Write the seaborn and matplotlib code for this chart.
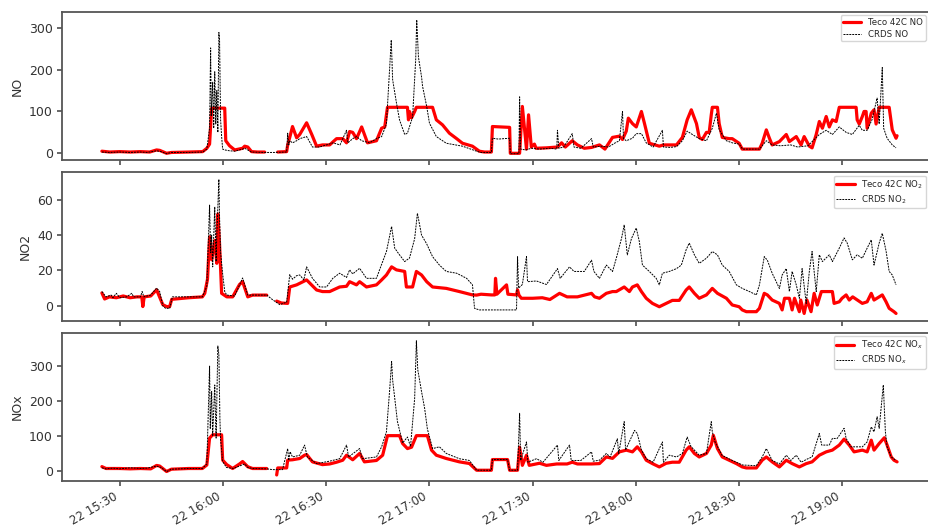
# NO / NO2 / NOx comparison, Teco 42C vs CRDS
import numpy as np
import pandas as pd
import matplotlib
matplotlib.use('Agg')
import matplotlib.pyplot as plt
import matplotlib.dates as mdates
import seaborn as sns

start = pd.Timestamp('2018-05-22 15:00')

# (minutes after 15:00, value)
no_teco_a = [(24.8, 5), (27.1, 3), (30, 4), (33, 3), (36, 4), (38.7, 3), (40.7, 8), (41.6, 7),
             (43.6, 0), (45, 2), (50, 3), (54.1, 4), (55.3, 12), (56.1, 22), (56.7, 108),
             (60.5, 108), (60.8, 30), (61.9, 18), (63.4, 8), (65.7, 12), (66.3, 17), (67.2, 15),
             (68.3, 4), (70, 3), (72.1, 3)]
no_teco_b = [(75.9, 3), (78.5, 4), (78.8, 20), (79.4, 38), (80.2, 64), (81.4, 37), (82.3, 45),
             (84.3, 73), (85.8, 45), (87.2, 17), (88.9, 20), (91, 20), (93, 35), (94.8, 35),
             (95.9, 25), (96.8, 52), (97.7, 50), (98.8, 35), (100.3, 63), (102, 25), (104.6, 30),
             (106.1, 60), (107, 63), (107.8, 110), (113.6, 110), (113.9, 80), (114.2, 100),
             (114.8, 85), (115.7, 100), (116.2, 110), (120.9, 110), (122, 80), (123.8, 68),
             (125.8, 48), (127.9, 35), (129.6, 24), (132.5, 17), (134.5, 5), (136, 3), (138, 3),
             (138.3, 64), (143.3, 62), (143.5, 0), (146.2, 0), (147, 112), (148.2, 10),
             (148.8, 92), (149.6, 15), (150.5, 22), (151, 12), (154, 13), (157.2, 15), (158.4, 25),
             (159.5, 15), (161.5, 30), (163, 20), (165, 12), (167.1, 14), (169.4, 20), (171, 10),
             (173.2, 38), (175.2, 41), (176.1, 33), (177.2, 53), (177.8, 84), (179, 71),
             (180.1, 63), (181.6, 100), (182.5, 71), (183.9, 24), (186.8, 17), (188, 20),
             (191.8, 20), (193.5, 38), (194.9, 80), (196.1, 104), (197.6, 71), (198.4, 38),
             (199.3, 33), (200.5, 50), (201.3, 50), (201.9, 92), (202.2, 110), (203.7, 110),
             (204.2, 71), (205.1, 38), (207.1, 35), (208, 35), (210, 24), (210.9, 10), (215.9, 10),
             (216.7, 24), (217.9, 56), (218.8, 36), (219.6, 20), (221.7, 28), (223.7, 45),
             (224.6, 28), (226.6, 40), (228, 20), (228.9, 40), (230.4, 17), (231.2, 13),
             (232.4, 45), (233.3, 76), (234.2, 60), (235.3, 88), (236.2, 63), (237.1, 80),
             (238.2, 76), (239.1, 110), (244, 110), (244.3, 80), (244.9, 70), (245.8, 88),
             (246.3, 100), (246.9, 100), (247.2, 60), (248.4, 96), (249.2, 104), (249.8, 70),
             (250.7, 110), (253.6, 110), (254.5, 56), (255.6, 36), (255.9, 42)]
no_crds = [(24.8, 3), (27, 2), (30, 3), (33, 2), (36, 3), (38, 2), (40.7, 6), (42, 4), (43.6, -1),
           (45, 2), (50, 2), (54.1, 3), (55.3, 10), (56.1, 60), (56.4, 252), (56.6, 90), (57, 170),
           (57.3, 60), (57.6, 195), (57.9, 70), (58.2, 150), (58.5, 50), (58.8, 289), (59, 270),
           (59.3, 80), (59.6, 40), (59.9, 10), (60.5, 8), (61.9, 6), (63.4, 5), (65.7, 10),
           (66.3, 12), (67.2, 8), (68.3, 3), (72, 2), (75, 2), (78.5, 3), (78.8, 48), (79.1, 20),
           (79.4, 30), (80.2, 25), (81.4, 30), (82.3, 35), (84.3, 40), (85, 30), (86, 15),
           (88.1, 15), (90, 20), (92, 25), (94, 20), (95.9, 55), (96.3, 25), (97.7, 35),
           (98.8, 40), (100.3, 30), (102.6, 25), (104.6, 35), (106.1, 40), (107.5, 70),
           (108.4, 200), (108.9, 271), (109.3, 176), (110.4, 121), (111.3, 80), (112.8, 45),
           (113.6, 48), (115.1, 87), (116, 224), (116.3, 319), (116.8, 230), (117.7, 183),
           (118, 160), (119.2, 112), (120, 72), (122, 40), (124.9, 24), (129.6, 17), (133.7, 5),
           (135, 2), (138, 2), (138.3, 36), (140, 34), (143.3, 36), (143.5, -1), (146, -1),
           (146.2, 135), (146.5, 10), (148, 8), (149.6, 12), (152, 10), (155, 12), (157, 10),
           (157.2, 55), (157.6, 12), (159, 15), (161.5, 47), (162, 15), (164, 12), (167.1, 35),
           (167.6, 15), (170, 17), (172, 15), (174, 25), (175.2, 30), (176.1, 100), (176.4, 35),
           (177.2, 30), (179, 36), (180.1, 47), (181.6, 47), (183, 25), (185, 15), (187.7, 55),
           (188, 15), (190, 14), (191.8, 16), (193.5, 30), (194.9, 53), (196.4, 45), (198.4, 35),
           (200.5, 30), (202.2, 60), (203.4, 96), (204.2, 56), (206.3, 30), (208, 25), (210, 22),
           (211, 10), (215.9, 10), (217.9, 30), (219.6, 20), (222, 18), (225, 20), (227, 15),
           (230, 18), (233.3, 45), (235.3, 55), (237.1, 45), (239.1, 63), (241.1, 50),
           (242.9, 45), (244.9, 67), (245.8, 55), (247.2, 55), (248.6, 80), (250.1, 132),
           (250.7, 70), (251.6, 205), (252, 60), (253, 36), (254.5, 20), (255.6, 13)]

no2_teco_a = [(24.8, 7.2), (25.6, 3.8), (27, 5), (29, 4.5), (31, 5.5), (33, 4.5), (35, 5),
              (36.4, 5), (36.7, -0.5), (37.1, 5), (39, 5.5), (40.7, 9), (42.5, 0.6), (43.6, -0.5),
              (44.5, -0.5), (45.1, 3.6), (50, 4.5), (54, 5), (54.7, 7), (55.5, 15), (56.1, 39),
              (56.7, 26), (57.6, 37), (58.2, 24), (58.5, 52), (59, 35), (59.6, 7), (61.1, 5),
              (62.8, 5), (64.8, 12), (65.7, 13.6), (67.2, 5), (68.6, 6), (72.7, 6)]
no2_teco_b = [(75.6, 2.6), (77, 1.5), (78.8, 1.3), (79.4, 10.6), (81.4, 11.8), (84.3, 14.6),
              (87.2, 8.9), (88.9, 8), (91, 8), (93.9, 10.6), (95.9, 11), (96.8, 13.6), (98.8, 11.8),
              (99.7, 13.6), (101.7, 10.6), (104.6, 11.8), (106.1, 14.6), (107.5, 17.4), (109, 22),
              (110.4, 20.3), (112.8, 19.4), (113.3, 10.6), (115.1, 10.6), (116.2, 19.4),
              (117.7, 17.4), (119.2, 13.6), (120.9, 10.6), (124.9, 9.8), (128.7, 8), (132.5, 6.1),
              (133.7, 6), (135, 6.5), (138, 6.1), (139, 6.1), (139.2, 15.5), (139.6, 6.5),
              (142.4, 11.8), (142.8, 6.5), (145.3, 6.1), (145.6, 9), (146, 6), (146.7, 4.2),
              (150, 4.2), (152.8, 4.5), (155, 3.5), (157.8, 7), (160, 5), (163, 5), (167.1, 7),
              (168, 5), (169.4, 4.2), (171.4, 7), (173.2, 8), (174.3, 8), (176.6, 10.6), (178.1, 8),
              (179, 10.6), (180.4, 11.8), (181.6, 8), (183, 4.2), (184.8, 1.3), (186.8, -0.6),
              (188.8, 1.3), (190.6, 3), (192.6, 3), (194.6, 8.9), (195.5, 10.6), (197, 7),
              (198.4, 4.2), (200.5, 6.1), (202.2, 9.8), (203.7, 7), (206.3, 4.2), (208, 0.4),
              (210, -0.6), (210.9, -2.4), (212.1, -3.4), (215, -3.4), (215.9, -1.5), (217.3, 7),
              (218.2, 6.1), (219.6, 3.2), (221.7, 1.3), (222.5, -2.4), (223.2, 4.2), (224.6, 4.2),
              (225.4, -2.4), (226.1, 4.2), (227.5, -3.4), (227.9, 3.2), (228.9, -4.4), (229.7, 3.2),
              (230.9, -3.4), (231.8, 7), (232.7, 0.4), (233.9, 8), (237.1, 8), (237.6, 1.3),
              (239.1, 2.2), (239.9, 4.2), (241.1, 6.1), (242, 3.2), (243, 5), (245.8, 1.3),
              (247.2, 2.2), (248.4, 7), (249.2, 3.2), (250.7, 5), (251.6, 6.1), (252.7, 2.2),
              (253.6, -1.5), (255, -3.4), (255.6, -4.4)]
no2_crds = [(24.8, 8), (26, 5), (27.5, 6), (28, 4.5), (29, 7), (30, 4.5), (32, 5), (33.5, 7),
            (34, 5), (36, 5), (36.5, 8), (37, 5), (39, 6), (40.7, 10), (41.6, 8), (42.5, 0),
            (43.3, -1.5), (44.5, -1.5), (45.3, 5), (50, 5), (54, 5), (55.3, 11), (56.1, 57),
            (56.4, 30), (56.7, 40), (57, 22), (57.6, 56), (58, 25), (58.2, 40), (58.8, 71.6),
            (59, 50), (59.3, 30), (59.9, 18), (60.5, 8), (61.1, 6), (63.4, 5.5), (65.7, 15.7),
            (67.2, 6), (68.6, 6), (72.7, 6), (74.4, 3.4), (76.5, 0.6), (78.5, 2), (79.4, 17.6),
            (80.2, 15), (81.4, 17), (82.3, 17.4), (83.5, 14.6), (84.3, 22), (86, 15.5),
            (88.1, 10.6), (90.1, 10.6), (91.9, 15.5), (93.9, 18.4), (95.9, 16), (96.8, 20.3),
            (97.7, 18), (99.7, 21.2), (101.7, 15.5), (104.6, 15.5), (105.5, 20.3), (107.5, 30.7),
            (109, 44.9), (109.9, 32.6), (111.3, 28.8), (112.8, 25), (114.2, 27), (115.7, 38),
            (116.5, 52.4), (117.7, 40), (119.2, 35), (120.9, 27.8), (122.9, 23), (124.9, 19.4),
            (127.9, 18.4), (130.8, 15.5), (132.5, 11.8), (133.1, -1.5), (134.5, -2.4),
            (145.3, -2.4), (145.6, 27.8), (145.9, 10), (147, 12), (148.2, 27.8), (148.5, 13.6),
            (151.1, 14), (154, 12), (157.2, 21), (158, 15.5), (160.7, 22), (162, 19.4),
            (165, 19.4), (167.1, 25.8), (167.8, 19.4), (169.4, 15.5), (171.4, 23), (173.2, 19.4),
            (174.3, 26.9), (175.8, 38), (176.6, 45.8), (177.5, 28.8), (178.7, 38), (180.1, 44),
            (181, 36.3), (181.9, 23), (183.9, 19.4), (185.9, 15.5), (186.8, 11.8), (187.7, 18.4),
            (189.7, 19.4), (191.8, 21), (193.2, 23), (194.6, 31.7), (195.5, 35.5), (197, 28.8),
            (198.4, 24), (200.5, 26.9), (202.2, 30.7), (203.7, 28.8), (205.1, 23), (207.1, 19.4),
            (209.2, 11.8), (210.9, 9.8), (213, 8), (215, 6.1), (215.9, 11.8), (217.3, 27.8),
            (218.2, 25.8), (219.6, 18.4), (221.7, 9.8), (222.5, 17.4), (223.7, 21), (224.6, 8),
            (225.4, 19.4), (226.6, 11.8), (227.5, 4.2), (228.3, 21), (229.5, 1.3), (230.4, 19.4),
            (231.2, 30.7), (232.4, 8), (233.3, 28.8), (234.2, 25), (236.2, 28.8), (237.1, 25),
            (239.1, 32.6), (240.5, 38.4), (241.4, 35.5), (242.9, 26), (244.3, 28.8),
            (245.8, 26.9), (247.2, 32.6), (248.4, 37.3), (249.2, 23), (250.7, 35.5), (251.6, 41),
            (252.7, 31), (253.6, 19.4), (254.5, 17.4), (255.6, 11.8)]

nox_teco_a = [(24.8, 12.4), (26, 7), (30, 7), (33, 6), (36, 7), (39, 6), (40.7, 15.8), (41.6, 14),
              (43.6, -1.6), (45, 5), (50, 7), (54, 7), (55.3, 17), (56.1, 94), (57, 103.5),
              (59.6, 103.5), (59.9, 31), (61.1, 18), (62.8, 7), (64.8, 20), (65.7, 27), (67.2, 12),
              (68.6, 7), (72.7, 7)]
nox_teco_b = [(75.6, -11.5), (75.9, 8.6), (78.5, 8.6), (78.8, 31), (80.2, 32), (82.3, 35.6),
              (83.7, 45), (84.3, 47), (86, 26), (88.9, 18.1), (91, 20), (93, 25), (94.8, 30.7),
              (95.9, 45), (97.7, 32), (99.7, 50), (101.1, 26), (104.6, 30), (106.4, 45),
              (107.8, 101), (111.3, 101), (112.2, 78.5), (113.6, 64), (114.8, 68), (116.2, 101),
              (119.4, 101), (120.6, 59.6), (122, 45), (124.9, 35.6), (128.7, 26), (131.6, 21.3),
              (133.7, 2), (138, 2), (138.3, 32.6), (142.7, 32.6), (143.3, 2), (145.6, 2),
              (146.2, 68), (147, 16), (148.2, 45), (149, 16), (152, 22), (154, 16), (157, 20),
              (160, 20), (161.5, 25), (163, 20), (167, 20), (169.4, 21), (171.4, 40), (173.2, 36),
              (175.2, 54.6), (177.2, 59.6), (179, 54.6), (180.4, 69), (181.6, 54.6), (183, 30.7),
              (184.8, 21), (186.8, 11.5), (188.8, 22), (190.6, 25), (192.6, 25), (194.6, 59.6),
              (195.5, 69), (197, 50), (198.4, 40), (200.5, 50), (201.9, 74), (202.5, 102),
              (203.7, 64), (205.1, 40), (207.1, 30.7), (209.2, 21), (210.9, 11.5), (212.1, 8.6),
              (215, 8.6), (216.7, 30.7), (217.9, 40), (219.6, 26), (221.7, 11.5), (223.7, 30.7),
              (225.4, 21), (227.5, 11.5), (229.5, 21), (231.2, 26), (233.3, 45), (235.3, 54.6),
              (237.1, 59.6), (239.1, 74), (240.5, 91), (242, 74), (243.4, 54.6), (245.8, 59.6),
              (247.2, 54.6), (248.4, 88), (249.2, 59.6), (250.7, 78.5), (252.2, 95), (253, 74),
              (254.2, 40), (255, 30.7), (255.9, 26)]
nox_crds = [(24.8, 9), (26, 6), (28, 8), (30, 6), (33, 9), (36, 7), (38, 8), (40.7, 14), (42, 10),
            (43.6, -2), (45, 5), (50, 7), (54, 7), (55.3, 20), (56.1, 300), (56.3, 120),
            (56.7, 227), (57, 100), (57.6, 246), (58, 94), (58.5, 357.6), (58.8, 333), (59.1, 150),
            (59.3, 90), (59.9, 27), (61, 10), (63, 7), (66.3, 20), (67.2, 10), (68.6, 7), (72.7, 6),
            (74.4, 3.8), (77.3, 3.8), (78.8, 64), (79.1, 30), (79.5, 55), (80.2, 40), (82.3, 45),
            (83.7, 74), (84.5, 40), (87.2, 21), (91, 28), (93.9, 35), (95.9, 74), (96.5, 40),
            (99.7, 64), (100.5, 35), (104.6, 40), (106.1, 69), (107.5, 112), (108.4, 227),
            (109, 313), (109.3, 260), (109.9, 208), (110.7, 141), (112.2, 80), (113.6, 97),
            (114.5, 70), (115.7, 208), (116.2, 372.6), (116.6, 290), (117.7, 227), (118.6, 179),
            (119.4, 120), (120.9, 64), (122.9, 69), (124.9, 50), (128.7, 35), (131.6, 30),
            (133.7, 2), (138, 2), (138.3, 32.6), (142.7, 32.6), (143.3, 2), (145.6, 2),
            (146.2, 165), (146.5, 30), (148.2, 83), (148.6, 25), (151.1, 35), (153, 25),
            (157.2, 74), (157.6, 30), (160.7, 74), (161.2, 30), (164, 30), (167.1, 54.6),
            (167.6, 28), (169.4, 30.7), (171.4, 50), (172.5, 40), (174.6, 92), (175, 50),
            (176.6, 141), (177, 60), (178.7, 97), (179.6, 116), (180.4, 107), (181.6, 60),
            (183, 35), (185, 25), (187.7, 83), (188, 25), (189.7, 45), (191.8, 40), (193.5, 50),
            (194.9, 97), (196, 70), (198.4, 45), (200.5, 50), (201.9, 141), (202.2, 112),
            (203, 83), (205, 45), (208, 30), (211, 17), (215, 15), (216.7, 40), (217.9, 64),
            (219.6, 30), (221.7, 20), (223.7, 45), (225, 30), (226.6, 45), (228, 25), (230, 35),
            (231.2, 40), (233.3, 107), (234, 74), (236.2, 74), (237.1, 93), (238.5, 93),
            (240.5, 122), (241.1, 93), (242.5, 69), (245.8, 69), (247.2, 83), (248.4, 126),
            (249.2, 112), (250.1, 155), (250.7, 122), (251.9, 246), (252.5, 112), (253, 69),
            (254.2, 40), (255.6, 30)]

panels = [
    ('NO', 'NO', [no_teco_a, no_teco_b], no_crds, (-17, 338)),
    ('NO2', 'NO$_2$', [no2_teco_a, no2_teco_b], no2_crds, (-8.5, 75.6)),
    ('NOx', 'NO$_x$', [nox_teco_a, nox_teco_b], nox_crds, (-28.7, 396)),
]


def to_df(pairs):
    df = pd.DataFrame(pairs, columns=['minute', 'value'])
    df['time'] = start + pd.to_timedelta(df['minute'], unit='min')
    return df


sns.set_theme(style='ticks', rc={
    'axes.edgecolor': '#555555', 'axes.linewidth': 1.3,
    'xtick.color': '#555555', 'ytick.color': '#555555',
    'xtick.labelcolor': '#333333', 'ytick.labelcolor': '#333333',
    'axes.labelcolor': '#333333',
    'xtick.major.size': 3.5, 'ytick.major.size': 3.5,
    'xtick.major.pad': 3, 'ytick.major.pad': 3,
    'xtick.labelsize': 8.5, 'ytick.labelsize': 9, 'axes.labelsize': 9,
})
plt.rcParams['font.family'] = ['DejaVu Sans']

fig, axes = plt.subplots(3, 1, figsize=(9.29, 5.30), dpi=100, sharex=True)
fig.subplots_adjust(left=0.0667, right=1.0086, top=0.9774, bottom=0.0925, hspace=0.08)

for ax, (ylab, sub, teco_segs, crds, ylim) in zip(axes, panels):
    for i, seg in enumerate(teco_segs):
        sns.lineplot(data=to_df(seg), x='time', y='value', ax=ax, color='red', lw=2.3,
                     estimator=None, sort=False,
                     label='Teco 42C ' + sub if i == 0 else None)
    sns.lineplot(data=to_df(crds), x='time', y='value', ax=ax, color='black', lw=0.7,
                 ls=(0, (2, 1)), estimator=None, sort=False, label='CRDS ' + sub)
    ax.set_ylabel(ylab)
    ax.set_xlabel('')
    ax.set_ylim(ylim)
    # the axes run a few pixels past the right edge, so pull the legend back inside
    ax.legend(loc='upper right', bbox_to_anchor=(0.991, 1.0), fontsize=6.2, handlelength=2.1,
              labelspacing=0.3, borderpad=0.3, handletextpad=0.8, borderaxespad=0.4)

axes[-1].set_xlim(start + pd.Timedelta(minutes=13.2), start + pd.Timedelta(minutes=267.5))
axes[-1].xaxis.set_major_locator(mdates.MinuteLocator(byminute=[0, 30]))
axes[-1].xaxis.set_major_formatter(mdates.DateFormatter('%d %H:%M'))
plt.setp(axes[-1].get_xticklabels(), rotation=30, ha='right')

fig.savefig('out.png', dpi=100)
